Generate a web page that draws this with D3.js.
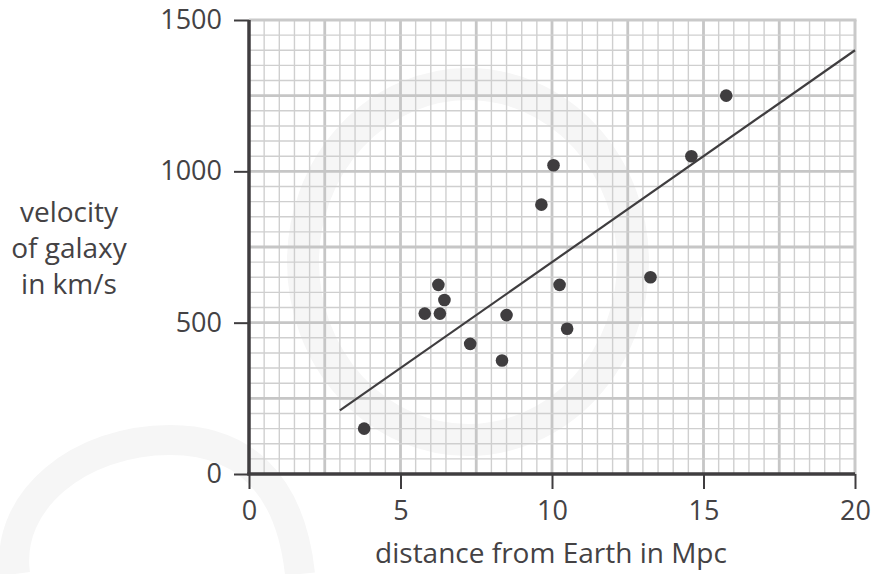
<!DOCTYPE html>
<html>
<head>
<meta charset="utf-8">
<script src="https://cdn.jsdelivr.net/npm/d3@7"></script>
<style>
  body { margin: 0; background: #fff; }
  svg text { font-family: "Open Sans", "Noto Sans", sans-serif; fill: #444244; }
</style>
</head>
<body>
<div id="chart"></div>
<script>
// galaxy distances (Mpc) and velocities (km/s)
var distance = [3.8, 5.8, 6.25, 6.3, 6.45, 7.3, 8.35, 8.5, 9.65, 10.05, 10.25, 10.5, 13.25, 14.6, 15.75];
var velocity = [150, 530, 625, 530, 575, 430, 375, 525, 890, 1020, 625, 480, 650, 1050, 1250];
// best fit line end points
var lineX = [3, 20];
var lineY = [210, 1400];
var xTicks = [0, 5, 10, 15, 20];
var yTicks = [0, 500, 1000, 1500];
var yLabel = ["velocity", "of galaxy", "in km/s"];
var xLabel = "distance from Earth in Mpc";

var width = 874, height = 574;
var svg = d3.select("#chart").append("svg")
    .attr("width", width).attr("height", height);

var x = d3.scaleLinear().domain([0, 20]).range([249, 855]);
var y = d3.scaleLinear().domain([0, 1500]).range([474, 20]);

// faint watermark
var wm = svg.append("g").attr("fill", "none").attr("stroke", "#f6f6f6");
wm.append("ellipse").attr("cx", 468).attr("cy", 262).attr("rx", 165).attr("ry", 178).attr("stroke-width", 32);
wm.append("path").attr("d", "M15,574 C5,500 80,440 170,440 C240,440 290,480 300,574").attr("stroke-width", 30);

// graph paper grid
var grid = svg.append("g");
grid.selectAll(".vminor").data(d3.range(0.5, 20, 0.5)).enter().append("line")
    .attr("x1", d => x(d)).attr("x2", d => x(d)).attr("y1", y(0)).attr("y2", y(1500))
    .attr("stroke", d => d % 2.5 === 0 ? "#c6c6c6" : "#cfcfcf")
    .attr("stroke-width", d => d % 2.5 === 0 ? 2.8 : 1.4);
grid.selectAll(".hminor").data(d3.range(50, 1500, 50)).enter().append("line")
    .attr("y1", d => y(d)).attr("y2", d => y(d)).attr("x1", x(0)).attr("x2", x(20))
    .attr("stroke", d => d % 250 === 0 ? "#c6c6c6" : "#cfcfcf")
    .attr("stroke-width", d => d % 250 === 0 ? 2.8 : 1.4);
grid.append("line").attr("x1", x(0)).attr("x2", x(20)+1.5).attr("y1", y(1500)).attr("y2", y(1500))
    .attr("stroke", "#c9c9c9").attr("stroke-width", 3);
grid.append("line").attr("x1", x(20)).attr("x2", x(20)).attr("y1", y(1500)).attr("y2", y(0))
    .attr("stroke", "#c9c9c9").attr("stroke-width", 3);

// axes
var xAxis = svg.append("g").attr("transform", "translate(0," + y(0) + ")")
    .call(d3.axisBottom(x).tickValues(xTicks).tickSize(15).tickPadding(12).tickFormat(d3.format("d")));
var yAxis = svg.append("g").attr("transform", "translate(" + x(0) + ",0)")
    .call(d3.axisLeft(y).tickValues(yTicks).tickSize(15).tickPadding(12).tickFormat(d3.format("d")));
[xAxis, yAxis].forEach(function(a){
  a.select(".domain").attr("stroke", "#3f3d3f").attr("stroke-width", 3.5);
  a.selectAll(".tick line").attr("stroke", "#3f3d3f").attr("stroke-width", 2);
  a.selectAll(".tick text").attr("font-size", 27).attr("fill", "#444244")
    .style("font-family", '"Open Sans", sans-serif');
});
xAxis.select(".domain").attr("d", "M" + (x(0) - 1.75) + ",0H" + x(20));
yAxis.select(".domain").attr("d", "M0," + y(0) + "V" + y(1500));

// best fit line
svg.append("line")
    .attr("x1", x(lineX[0])).attr("y1", y(lineY[0]))
    .attr("x2", x(lineX[1])).attr("y2", y(lineY[1]))
    .attr("stroke", "#3f3d3f").attr("stroke-width", 2.2);

// points
svg.selectAll(".pt").data(distance).enter().append("circle")
    .attr("cx", d => x(d)).attr("cy", (d, i) => y(velocity[i]))
    .attr("r", 6.3).attr("fill", "#3f3d3f");

// labels
svg.append("text").attr("x", 551).attr("y", 563).attr("text-anchor", "middle")
    .attr("font-size", 28).text(xLabel);
svg.selectAll(".yl").data(yLabel).enter().append("text")
    .attr("x", 69).attr("y", (d, i) => 222 + i * 36).attr("text-anchor", "middle")
    .attr("font-size", 28).text(d => d);
</script>
</body>
</html>
